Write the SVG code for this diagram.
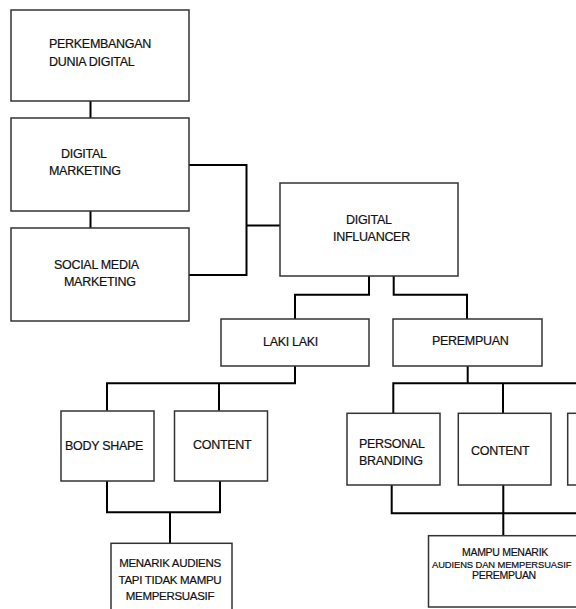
<svg xmlns="http://www.w3.org/2000/svg" width="576" height="609" viewBox="0 0 576 609">
<style>
.box{fill:#fff;stroke:#333;stroke-width:1.5}
.con{fill:none;stroke:#000;stroke-width:2}
text{font-family:"Liberation Sans",Arial,sans-serif;font-size:12.5px;fill:#111;letter-spacing:-0.3px;stroke:#111;stroke-width:0.2}
.s{font-size:11.5px;text-anchor:middle}
.xs{font-size:10.5px;text-anchor:middle}
</style>
<rect width="576" height="609" fill="#fff"/>
<g id="connectors">
<path class="con" d="M90.5 101V118M90.5 211V228"/>
<path class="con" d="M189 165H246.5V275H189M246.5 225.5H280"/>
<path class="con" d="M369 276V294.7H295V319M393.7 276V294.7H467V319"/>
<path class="con" d="M295 366V383.3H107V410.7M219 383.3V410.7"/>
<path class="con" d="M107 480.7V512.3H220V480.7M170 512.3V543.3"/>
<path class="con" d="M467.7 366V383.3H393.3V413.3M393.3 383.3H580M503 383.3V413.3"/>
<path class="con" d="M391.7 485V513.3H580M503.3 485V535.7"/>
</g>
<g id="n1"><rect class="box" x="11" y="10" width="178" height="91"/><text x="49" y="48">PERKEMBANGAN</text><text x="49" y="66">DUNIA DIGITAL</text></g>
<g id="n2"><rect class="box" x="11" y="118" width="178" height="93"/><text x="61" y="158">DIGITAL</text><text x="49" y="175">MARKETING</text></g>
<g id="n3"><rect class="box" x="11" y="228" width="178" height="93"/><text x="54" y="269">SOCIAL MEDIA</text><text x="64" y="286">MARKETING</text></g>
<g id="n4"><rect class="box" x="280" y="183" width="178" height="93"/><text x="346" y="224">DIGITAL</text><text x="333" y="241">INFLUANCER</text></g>
<g id="n5"><rect class="box" x="221" y="319" width="148" height="47"/><text x="263" y="346">LAKI LAKI</text></g>
<g id="n6"><rect class="box" x="393" y="319" width="149" height="47"/><text x="432" y="345">PEREMPUAN</text></g>
<g id="n7"><rect class="box" x="61" y="411" width="93" height="70"/><text x="65" y="450">BODY SHAPE</text></g>
<g id="n8"><rect class="box" x="174.5" y="411" width="93" height="70"/><text x="193" y="449">CONTENT</text></g>
<g id="n9"><rect class="box" x="111" y="543.3" width="121" height="80"/><text class="s" x="170" y="567">MENARIK AUDIENS</text><text class="s" x="170" y="584">TAPI TIDAK MAMPU</text><text class="s" x="170" y="600">MEMPERSUASIF</text></g>
<g id="n10"><rect class="box" x="347" y="413.3" width="93" height="71.7"/><text x="359" y="448">PERSONAL</text><text x="359" y="465">BRANDING</text></g>
<g id="n11"><rect class="box" x="458.3" y="413.3" width="92.7" height="71.7"/><text x="471" y="455">CONTENT</text></g>
<g id="n12"><rect class="box" x="567.7" y="413.3" width="93" height="71.7"/></g>
<g id="n13"><rect class="box" x="428.5" y="535.7" width="160" height="71.3"/><text class="xs" x="505" y="556">MAMPU MENARIK</text><text x="432" y="568" style="font-size:9.4px;letter-spacing:-0.1px">AUDIENS DAN MEMPERSUASIF</text><text class="xs" x="504" y="579">PEREMPUAN</text></g>
</svg>
